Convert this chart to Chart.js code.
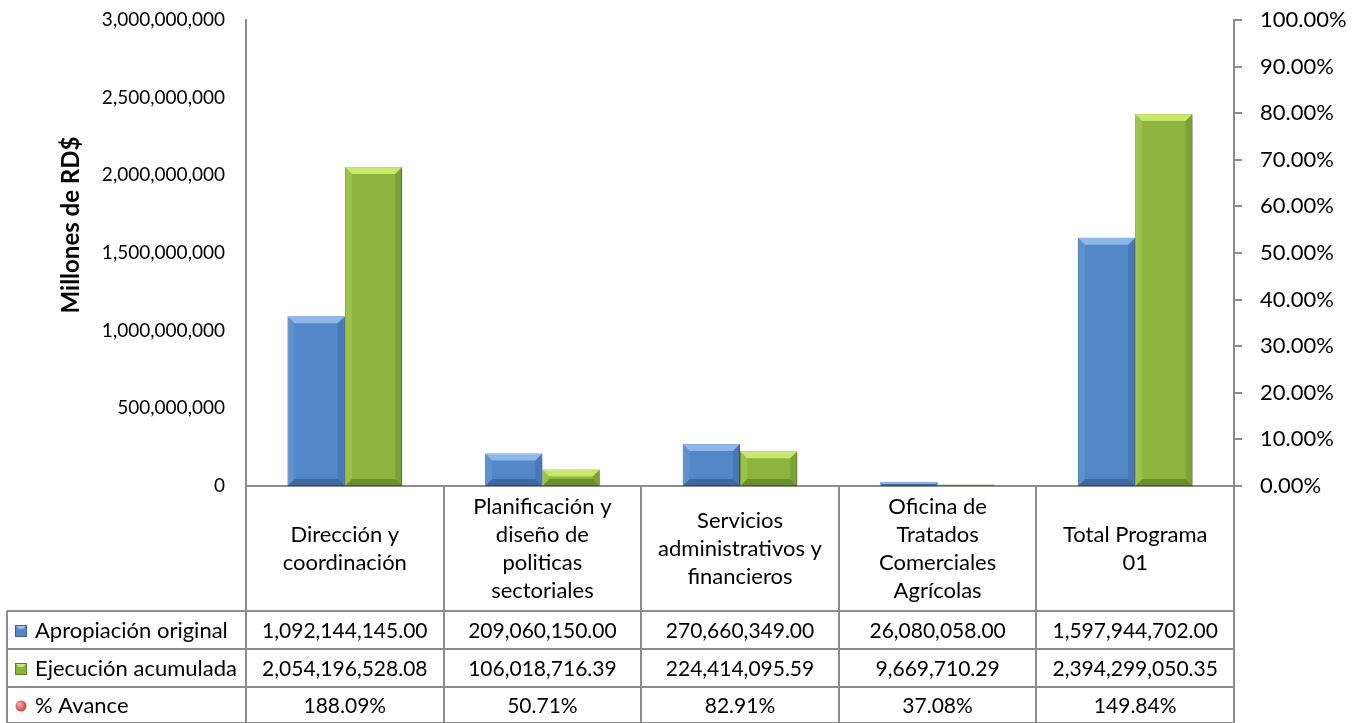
<!DOCTYPE html>
<html>
<head>
<meta charset="utf-8">
<script src="https://cdn.jsdelivr.net/npm/chart.js@4.4.1/dist/chart.umd.min.js"></script>
<style>
  html, body { margin: 0; padding: 0; background: #ffffff; }
  #zone { width: 1367px; height: 723px; }
</style>
</head>
<body>
<div id="zone"><canvas id="graphique"></canvas></div>
<script>
/* Apropiación vs ejecución — Programa 01 */

const categorias = [
  ["Dirección y", "coordinación"],
  ["Planificación y", "diseño de", "politicas", "sectoriales"],
  ["Servicios", "administrativos y", "financieros"],
  ["Oficina de", "Tratados", "Comerciales", "Agrícolas"],
  ["Total Programa", "01"]
];
const apropiacion = [1092144145.00, 209060150.00, 270660349.00, 26080058.00, 1597944702.00];
const ejecucion = [2054196528.08, 106018716.39, 224414095.59, 9669710.29, 2394299050.35];
const avance = [188.09, 50.71, 82.91, 37.08, 149.84];
const etiquetasSeries = ["Apropiación original", "Ejecución acumulada", "% Avance"];

const FUENTE = "Lato, 'Open Sans', sans-serif";
const GRIS = "#8c8c8c";

function formatoMonto(v) {
  return v.toLocaleString("en-US", { minimumFractionDigits: 2, maximumFractionDigits: 2 });
}

// biseau façon Excel par-dessus chaque barre
const biseau = {
  id: "biseau",
  beforeDatasetDraw(chart, args) {
    if (args.meta.type !== "bar") { return; }
    const ctx = chart.ctx;
    ctx.save();
    ctx.shadowColor = "rgba(0,0,0,0.28)";
    ctx.shadowBlur = 5;
    ctx.shadowOffsetX = 2;
    ctx.shadowOffsetY = 2;
  },
  afterDatasetDraw(chart, args) {
    if (args.meta.type !== "bar") { return; }
    const ctx = chart.ctx;
    ctx.restore();
    const teintes = args.index === 0
      ? { haut: "rgba(160,200,245,0.75)", bas: "rgba(30,60,110,0.4)", gauche: "rgba(120,170,230,0.3)", droite: "rgba(30,60,110,0.2)" }
      : { haut: "rgba(215,245,120,0.8)", bas: "rgba(60,85,20,0.4)", gauche: "rgba(190,230,100,0.3)", droite: "rgba(60,85,20,0.2)" };
    args.meta.data.forEach(function(el) {
      const g = el.x - el.width / 2, d = el.x + el.width / 2;
      const h = el.y, b = el.base;
      const t = Math.min(7, (b - h) / 2);
      if (t < 1) { return; }
      ctx.save();
      ctx.fillStyle = teintes.haut;
      ctx.beginPath(); ctx.moveTo(g, h); ctx.lineTo(d, h); ctx.lineTo(d - t, h + t); ctx.lineTo(g + t, h + t); ctx.closePath(); ctx.fill();
      ctx.fillStyle = teintes.bas;
      ctx.beginPath(); ctx.moveTo(g, b); ctx.lineTo(d, b); ctx.lineTo(d - t, b - t); ctx.lineTo(g + t, b - t); ctx.closePath(); ctx.fill();
      ctx.fillStyle = teintes.gauche;
      ctx.beginPath(); ctx.moveTo(g, h); ctx.lineTo(g + t, h + t); ctx.lineTo(g + t, b - t); ctx.lineTo(g, b); ctx.closePath(); ctx.fill();
      ctx.fillStyle = teintes.droite;
      ctx.beginPath(); ctx.moveTo(d, h); ctx.lineTo(d - t, h + t); ctx.lineTo(d - t, b - t); ctx.lineTo(d, b); ctx.closePath(); ctx.fill();
      ctx.restore();
    });
  }
};

// tableau de données sous le graphique + titre de l'axe
const tableau = {
  id: "tableau",
  afterDraw(chart) {
    const ctx = chart.ctx;
    const zone = chart.chartArea;
    const x = chart.scales.x;
    const n = categorias.length;
    const pas = (zone.right - zone.left) / n;
    const hautTable = zone.bottom;
    const basEntete = 611;
    const lignes = [basEntete, 649, 687, 723];
    const gaucheTable = 7;

    ctx.save();
    ctx.strokeStyle = GRIS;
    ctx.lineWidth = 2;
    // verticales
    for (let i = 0; i <= n; i++) {
      const xx = Math.round(zone.left + i * pas);
      ctx.beginPath(); ctx.moveTo(xx, hautTable); ctx.lineTo(xx, 723); ctx.stroke();
    }
    ctx.beginPath(); ctx.moveTo(gaucheTable, basEntete); ctx.lineTo(gaucheTable, 723); ctx.stroke();
    // horizontales
    lignes.forEach(function(y) {
      ctx.beginPath(); ctx.moveTo(gaucheTable, y); ctx.lineTo(zone.right, y); ctx.stroke();
    });

    ctx.fillStyle = "#000000";
    ctx.textAlign = "center";
    ctx.textBaseline = "middle";
    // en-têtes
    ctx.font = "22px " + FUENTE;
    categorias.forEach(function(lab, i) {
      const cx = x.getPixelForValue(i);
      const centre = (hautTable + basEntete) / 2;
      const interligne = 28;
      lab.forEach(function(l, k) {
        ctx.fillText(l, cx, centre + (k - (lab.length - 1) / 2) * interligne);
      });
    });
    // valeurs
    const rangees = [
      apropiacion.map(formatoMonto),
      ejecucion.map(formatoMonto),
      avance.map(function(v) { return v.toFixed(2) + "%"; })
    ];
    rangees.forEach(function(r, j) {
      const cy = (lignes[j] + lignes[j + 1]) / 2 + 1;
      ctx.font = "21px " + FUENTE;
      r.forEach(function(txt, i) {
        ctx.fillText(txt, x.getPixelForValue(i), cy);
      });
      // légende
      ctx.font = "22px " + FUENTE;
      ctx.textAlign = "left";
      ctx.fillText(etiquetasSeries[j], 35, cy);
      ctx.textAlign = "center";
      if (j < 2) {
        const col = chart.data.datasets[j].backgroundColor;
        ctx.fillStyle = col;
        ctx.fillRect(15, cy - 6, 12, 12);
        ctx.strokeStyle = chart.data.datasets[j].borderColor;
        ctx.lineWidth = 1;
        ctx.strokeRect(15.5, cy - 5.5, 11, 11);
        ctx.fillStyle = j === 0 ? "rgba(170,205,245,0.8)" : "rgba(220,245,130,0.8)";
        ctx.beginPath(); ctx.moveTo(16, cy - 5); ctx.lineTo(26, cy - 5); ctx.lineTo(23, cy - 2); ctx.lineTo(19, cy - 2); ctx.closePath(); ctx.fill();
      } else {
        const grad = ctx.createRadialGradient(19, cy - 2, 1, 21, cy, 7);
        grad.addColorStop(0, "#f4a3a0");
        grad.addColorStop(1, "#b8302b");
        ctx.fillStyle = grad;
        ctx.beginPath(); ctx.arc(21, cy, 5.5, 0, Math.PI * 2); ctx.fill();
      }
      ctx.fillStyle = "#000000";
    });

    // titre de l'axe gauche
    ctx.save();
    ctx.translate(71, 225);
    ctx.rotate(-Math.PI / 2);
    ctx.font = "bold 24px " + FUENTE;
    ctx.fillText("Millones de RD$", 0, 0);
    ctx.restore();
    ctx.restore();
  }
};

function sansMarge(s) {
  s.paddingTop = 0;
  s.paddingBottom = 0;
}

new Chart(document.getElementById("graphique").getContext("2d"), {
  data: {
    labels: categorias,
    datasets: [
      {
        type: "bar",
        label: etiquetasSeries[0],
        data: apropiacion,
        backgroundColor: "#5387c7",
        borderColor: "#3c6496",
        borderWidth: 1,
        borderSkipped: false,
        categoryPercentage: 0.58,
        barPercentage: 1.0,
        yAxisID: "y",
        order: 2
      },
      {
        type: "bar",
        label: etiquetasSeries[1],
        data: ejecucion,
        backgroundColor: "#8db43f",
        borderColor: "#5f7d25",
        borderWidth: 1,
        borderSkipped: false,
        categoryPercentage: 0.58,
        barPercentage: 1.0,
        yAxisID: "y",
        order: 2
      },
      {
        type: "line",
        label: etiquetasSeries[2],
        data: avance,
        yAxisID: "y1",
        showLine: false,
        pointRadius: 6,
        pointBackgroundColor: "#c0392b",
        pointBorderColor: "#8e2a20",
        order: 1
      }
    ]
  },
  options: {
    responsive: true,
    maintainAspectRatio: false,
    animation: false,
    layout: { padding: { top: 20, right: 0, bottom: 0, left: 0 } },
    plugins: { legend: { display: false }, tooltip: { enabled: false } },
    scales: {
      x: {
        grid: { display: false },
        border: { display: true, color: GRIS, width: 2 },
        ticks: { display: false },
        afterFit: function(s) { s.height = 723 - 486; }
      },
      y: {
        position: "left",
        min: 0,
        max: 3000000000,
        grid: { display: false },
        border: { display: true, color: GRIS, width: 2 },
        ticks: {
          stepSize: 500000000,
          padding: 13,
          color: "#000000",
          font: { family: FUENTE, size: 19 },
          callback: function(v) { return v.toLocaleString("en-US"); }
        },
        afterFit: function(s) { s.width = 246; sansMarge(s); }
      },
      y1: {
        position: "right",
        min: 0,
        max: 1,
        grid: { display: true, drawOnChartArea: false, drawTicks: true, tickLength: 8, color: GRIS, lineWidth: 2 },
        border: { display: true, color: GRIS, width: 2 },
        ticks: {
          stepSize: 0.1,
          padding: 18,
          color: "#000000",
          font: { family: FUENTE, size: 22 },
          callback: function(v) { return (v * 100).toFixed(2) + "%"; }
        },
        afterFit: function(s) { s.width = 1367 - 1234; sansMarge(s); }
      }
    }
  },
  plugins: [biseau, tableau]
});
</script>
</body>
</html>
